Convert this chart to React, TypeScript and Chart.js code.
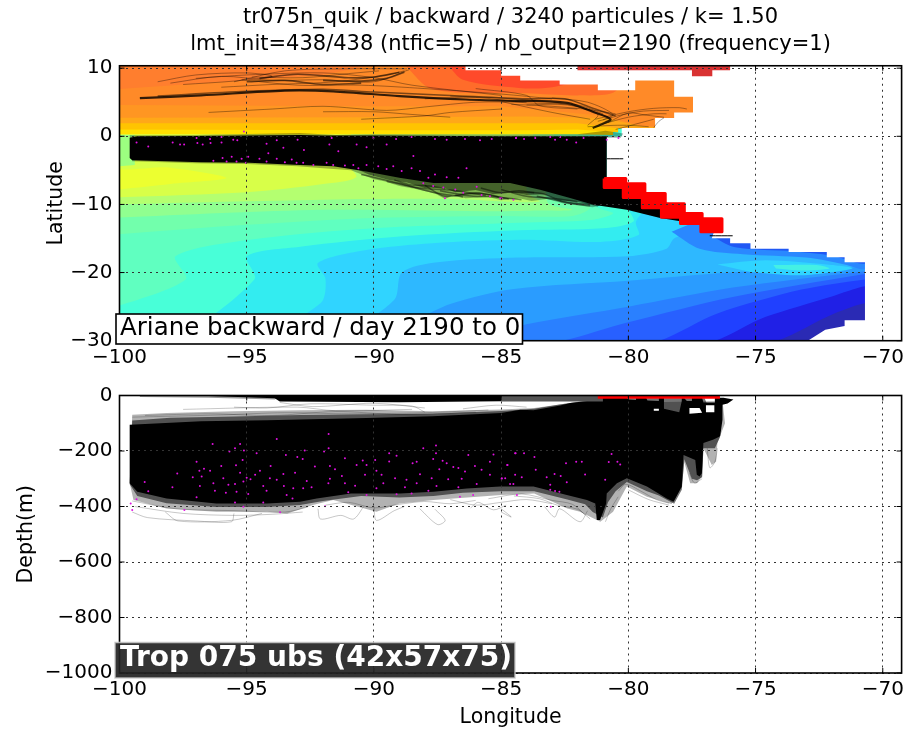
import React, { useEffect, useRef } from "react";
import { Chart, registerables } from "chart.js";

Chart.register(...registerables);

type P = number[][];

const FONT = "'DejaVu Sans', sans-serif";
const lonTicksStep = 5;
const titleLines = [
  "tr075n_quik / backward / 3240 particules / k= 1.50",
  "lmt_init=438/438 (ntfic=5) / nb_output=2190 (frequency=1)",
];
const topBoxText = "Ariane backward / day 2190 to 0";
const bottomBoxText = "Trop 075 ubs (42x57x75)";

// ---------- contour levels, cold to warm ("warmer than" boundary curves)
const coldColors = [
  "#2020e6", "#2040ff", "#2860ff", "#2a80ff", "#2a9cff", "#2eb8ff", "#30d4ff", "#33ecf0",
  "#48ffd8", "#60ffc0", "#72ffac", "#90ff90", "#b4ff70", "#d8ff48", "#ecff30",
];
const coldCurves: P[] = [
  [[-74.8, -30.5], [-71.9, -26], [-70.7, -24.5], [-69, -24]],
  [[-77.2, -30.5], [-74.6, -26.5], [-72, -23.5], [-70.7, -22], [-69, -21.5]],
  [[-79.4, -30.5], [-76.5, -26], [-73.2, -22.5], [-70.7, -21], [-69, -20.5]],
  [[-83.5, -30.5], [-80, -27.3], [-75.9, -23.6], [-70.7, -20.2], [-69, -19.5]],
  [[-86.8, -30.5], [-84, -27.6], [-80, -25], [-75.9, -22.2], [-70.7, -19.8], [-69, -19]],
  [[-89.5, -28.5], [-87, -24.6], [-84.5, -22.4], [-80, -21.2], [-76, -20], [-70.7, -19.2], [-69, -19]],
  [[-91, -28], [-89.2, -24], [-88.9, -20], [-87.5, -18.5], [-84.3, -17.8], [-80, -17.6], [-78.5, -16.5], [-78.2, -15], [-77, -13]],
  [[-94.9, -30], [-92.1, -24.5], [-91.9, -21], [-92.2, -18.6], [-90.3, -16.7], [-87.7, -15.7], [-84.3, -15.2], [-81.1, -15.5], [-79.6, -14.5], [-79.7, -12.5], [-79, -9]],
  [[-98, -30], [-94.7, -21], [-95, -17.6], [-92.9, -16.2], [-89, -14.7], [-84.3, -13.8], [-81, -13.5], [-79.8, -12.5], [-80, -10.5]],
  [[-100.5, -25.5], [-97.4, -21], [-97.8, -17.6], [-94.9, -15.2], [-90, -13.5], [-84.3, -12.7], [-81.5, -12.3], [-80.6, -11.3], [-81.3, -10]],
  [[-100.5, -14.5], [-95, -13], [-90, -12], [-85, -11.7], [-82.2, -11.7], [-81.5, -10.5], [-82, -9]],
  [[-100.5, -12], [-92, -10.8], [-85, -11], [-83.5, -10.9], [-82.2, -10.8], [-83.2, -9.5]],
  [[-100.5, -10], [-92, -9.3], [-87, -9.2], [-83.5, -9.6], [-84, -8]],
  [[-100.5, -9], [-95, -8.2], [-92, -7], [-90.7, -6], [-91, -4]],
  [[-100.5, -8], [-98, -7], [-95.8, -6.1], [-98, -4.6], [-100.5, -4]],
];
const leftEdgeGreen: P = [[-100, -4.4], [-99.4, -4.2], [-99.4, 0.2], [-100, 0.2]];

const blobLight: P = [[-76.5, -18.8], [-74.6, -18.2], [-72, -18.9], [-71.2, -19.4], [-73.2, -20.4], [-75.2, -19.9]];
const blobCyan: P = [[-74.3, -18.9], [-72.6, -18.9], [-72.1, -19.4], [-73.2, -19.7], [-74.2, -19.4]];
const coastA: P = [[-78.3, -14], [-77.2, -16.5], [-75.5, -17.3], [-73, -17.8], [-71.5, -18.8], [-70.7, -19.5], [-70, -18], [-74, -14], [-77, -12]];
const coastB: P = [[-76.8, -14.5], [-75.8, -16.3], [-73.5, -16.9], [-72, -17.5], [-70.7, -18.7], [-70, -17], [-75, -14]];

const northColors = ["#ffe000", "#ffc400", "#ffa818", "#ff9622", "#ff8a28", "#ff7e2e", "#ff6c2a", "#ff4a2a"];
const northCurves: P[] = [
  [[-100.5, 0.3], [-90, 0.3], [-82, 0.3], [-80.6, 0.2]],
  [[-100.5, 1], [-90, 0.9], [-84, 0.9], [-82, 1], [-80.4, 0.6]],
  [[-100.5, 1.9], [-90, 1.9], [-84, 1.9], [-82, 1.9], [-80, 1], [-77, 1]],
  [[-100.5, 2.7], [-90, 2.8], [-84, 2.9], [-81, 2.7], [-79.5, 1.5], [-77, 1]],
  [[-100.5, 4.6], [-90, 4.4], [-85, 4.4], [-81, 3], [-79.5, 1.5], [-77, 1]],
  [[-100.5, 6.8], [-92, 9], [-90, 10.5]],
];
const northOrange: P = [[-88.8, 10.5], [-87.7, 6.9], [-84, 6.3], [-82, 6], [-80.5, 6.6], [-80.3, 10.5]];
const northRed: P = [[-87.1, 10.5], [-86.5, 8.3], [-84.3, 7.1], [-83, 7.2], [-82, 8.4], [-82, 10.5]];

// ---------- land
const landEdge: P = [
  [-86.4, 10.5], [-86.4, 9.7], [-85, 9.7], [-85, 8.9], [-84.25, 8.9], [-84.25, 8.2], [-82.7, 8.2], [-82.7, 7.6],
  [-81.2, 7.6], [-81.2, 6.75], [-79.73, 6.75], [-79.73, 8.2], [-78.2, 8.2], [-78.2, 5.8], [-77.46, 5.8], [-77.46, 3.5],
  [-78.2, 3.5], [-78.2, 2.7], [-78.95, 2.7], [-78.95, 1.2], [-80.26, 1.2], [-80.26, 0], [-80.85, -0.1], [-80.85, -6.1],
  [-80.5, -7], [-79.8, -8], [-79, -9.4], [-78.3, -10.9], [-77.5, -12], [-76.7, -13], [-76.65, -14.2], [-76.72, -14.95],
  [-76, -14.95], [-76, -15.7], [-75.2, -15.7], [-75.2, -16.5], [-73.7, -16.5], [-73.7, -17], [-72.2, -17], [-72.2, -17.75],
  [-71.5, -17.75], [-71.5, -18.5], [-70.7, -18.5], [-70.7, -27], [-71.5, -27], [-71.5, -27.85], [-72.26, -28.4], [-72.9, -29.9],
  [-73, -30.5], [-69, -30.5], [-69, 10.5],
];
const redStrip: P = [[-82, 10.5], [-82, 9.7], [-77.5, 9.7], [-77.5, 8.8], [-76.7, 8.8], [-76.7, 9.7], [-76, 9.7], [-76, 10.5]];
const redCells: P = [
  [-80.95, -80.1, -6.2, -7.5], [-80.2, -79.35, -6.95, -9], [-79.45, -78.55, -8.4, -10.5],
  [-78.7, -77.8, -9.9, -11.9], [-77.95, -77.1, -11.35, -12.8], [-77.15, -76.32, -12.1, -14.0],
];

// ---------- top panel: particle mass and tracks
const massTopCore: P = [
  [-99.6, -0.2], [-99.3, 0], [-97, 0.05], [-95, 0.1], [-92.9, 0.2], [-92, 0.1], [-90, 0.1], [-85, 0], [-82, 0], [-80.85, 0],
  [-80.85, -6.2], [-80, -7.5], [-79, -9.5], [-78.5, -11], [-77.2, -12.6], [-77.1, -13], [-78.75, -12], [-80.06, -10.8],
  [-81.37, -10.05], [-82.29, -9.07], [-83.47, -7.84], [-84.65, -6.86], [-86.35, -6.86], [-87.66, -6.86], [-89, -6.1],
  [-90.3, -5.15], [-91.6, -4.4], [-92.9, -4.2], [-94.9, -3.9], [-96.8, -3.8], [-99.5, -3.5], [-99.6, -3.2],
];
const massTopHaloInner: P = [
  [-90.8, -4.6], [-90.2, -5.6], [-89.4, -6.4], [-88.7, -6.8], [-88, -7.6], [-87.3, -7.5], [-86.8, -8.2], [-86, -7.9], [-85.3, -8.5], [-84.6, -8.2],
  [-84, -8.6], [-83.3, -8.5], [-82.7, -9.4], [-82, -9.6], [-81.2, -10.3], [-80.8, -9], [-82, -7], [-86, -6], [-90, -4.5],
];
const massTopHalo: P = [
  [-99.6, 0.15], [-97, 0.2], [-95, 0.35], [-92.9, 0.5], [-91.5, 0.2], [-90, 0.3], [-85, 0.25], [-82, 0.3], [-80.9, 0.8], [-80.2, 0.4], [-80.3, -0.2],
  [-80.85, -0.2], [-80.9, -10], [-81.4, -10.4], [-82.1, -10.1], [-82.5, -9.9], [-83.2, -9.2], [-83.8, -9.5], [-84.3, -9.1], [-85, -9.4], [-85.5, -8.9],
  [-86.4, -9.1], [-86.9, -8.6], [-87.2, -9.2], [-87.6, -8.4], [-88.4, -7.7], [-89, -7.3], [-89.6, -6.6], [-90, -6.3], [-90.9, -5], [-92, -4.7], [-93, -4.4],
  [-95, -4.05], [-97, -3.95], [-99.5, -3.65],
];
const massTopSpikes: P[] = [
  [[-90.5, -5.6], [-89, -6.9], [-87.7, -8.2], [-86.5, -8.9]],
  [[-89.5, -6.6], [-88.2, -7.6], [-87, -7.9], [-85.6, -8.7]],
  [[-88, -7.2], [-87.2, -8.8], [-86, -8.3], [-84.7, -9.2]],
  [[-85, -7.8], [-84, -8.8], [-83, -9.1], [-82, -9.6]],
  [[-84.6, -8.2], [-83.4, -8.4], [-82.6, -9.6], [-81.5, -10.2]],
  [[-86.8, -8.6], [-86.1, -8.8], [-85.2, -8.9], [-84.2, -9.3]],
  [[-83.6, -8.8], [-82.9, -9.3], [-82.2, -9.8], [-81.5, -10]],
  [[-89.2, -6.4], [-88.6, -7.1], [-87.8, -7.3], [-87.2, -7.7]],
  [[-87.4, -8], [-86.6, -8.5], [-85.8, -8.4], [-85.1, -8.9]],
  [[-85.8, -7.6], [-85, -8.3], [-84.3, -8], [-83.7, -8.3]],
];
const trackMain: P = [
  [-99.2, 5.6], [-96.8, 6], [-93.5, 6.7], [-91.6, 6.6], [-89, 5.9], [-86.4, 5.4], [-84.3, 5.2], [-83.7, 5.2], [-82.4, 4.9],
  [-81.4, 3.6], [-80.7, 2.5], [-81.1, 1.7], [-81.4, 1.2],
];
const trackSecond: P = [[-98.5, 5.9], [-95, 6.6], [-92, 6.9], [-90, 6.5], [-87, 6], [-84, 5.5], [-82.5, 5.5], [-81.3, 4], [-80.5, 3]];
const trackUpperDark: P[] = [
  [[-94.5, 8.5], [-93, 9.1], [-91, 8.6], [-90, 8.7], [-89, 9.4]],
  [[-92, 8.2], [-90.5, 8.1], [-89.5, 8.5], [-88.8, 9.4]],
  [[-95, 8], [-93.5, 8.2], [-92, 7.6], [-90.5, 7.8]],
];
const tracksThinTop: P[] = [
  [[-98, 7.8], [-96, 8.8], [-94, 8.2], [-92, 8.3], [-90, 8], [-88.6, 9.8]],
  [[-95.5, 8], [-93.5, 9.6], [-91, 9.9], [-88.7, 9.9]],
  [[-97, 8.5], [-95, 9], [-92, 9.3], [-90, 8.6], [-88.5, 7.5], [-85, 6]],
  [[-95.2, 8.3], [-93, 7.5], [-90.5, 7.5], [-88, 7], [-85, 6.2], [-83, 5.5]],
  [[-96, 7.2], [-94, 7.6], [-91.5, 8], [-89.5, 9], [-88.8, 9.6]],
  [[-94.8, 8.7], [-92.8, 8.6], [-91, 9.2], [-89.8, 9.6]],
  [[-98.5, 8], [-97, 9], [-95, 9.3], [-94, 8.8], [-95.5, 8.1], [-97.5, 7.6]],
  [[-96.5, 3.5], [-94, 4], [-92, 4.4], [-89.5, 3.8], [-88, 4.3], [-86, 5], [-84, 5]],
  [[-90.5, 2.5], [-88, 3], [-87, 3.5], [-85, 4]],
  [[-92, 3.6], [-90, 3.6], [-88.5, 3.2], [-87, 2.8]],
  [[-86, 7], [-84, 6], [-83.5, 4.5], [-82, 4]],
  [[-85, 5.1], [-83, 3.5], [-81.5, 2.5]],
  [[-87, 5.9], [-85, 5.6], [-83, 5], [-81.8, 4.2], [-80.8, 2.8]],
  [[-88, 5.5], [-86, 5.7], [-84, 4.9], [-82, 4.6], [-81, 3.3]],
  [[-84.6, 4.7], [-83, 4.4], [-81.5, 3.9], [-80.5, 3.3]],
  [[-81.3, 2.5], [-80, 3.6], [-79, 4.1], [-78, 4.2], [-77.7, 4]],
  [[-81, 1.8], [-80, 2.8], [-79, 3.3], [-78.5, 3.3]],
  [[-81.2, 2.2], [-80.2, 3.2], [-79.4, 3.7], [-78.4, 3.8]],
  [[-80.8, 2], [-80, 3.4], [-79.3, 3.1], [-78.6, 2.8]],
  [[-80.5, 1], [-79.5, 2], [-79, 2.5]],
  [[-81.6, 1.4], [-80.6, 1.6], [-79.9, 1.6], [-79.2, 1.4]],
  [[-83, 5.6], [-81.6, 5], [-80.6, 3.2], [-81, 2.4]],
  [[-84, 4.6], [-82.4, 4.6], [-81.2, 3.2], [-81.6, 1.6]],
  [[-79, 1.3], [-78.8, 2.2], [-78.6, 2.7]],
];
const tinyStrokes: P[] = [
  [[-80.85, -3.3], [-80.2, -3.3]],
  [[-76.8, -14.6], [-75.9, -14.6]],
];
const topDotLon = [
  -99.33, -98.87, -97.91, -97.62, -97.46, -96.97, -96.94, -96.73, -96.44, -96.42, -95.99, -95.99, -95.53, -95.37, -95.11, -94.22, -93.82, -93.56, -93, -92.75,
  -91.75, -91.66, -91.4, -90.68, -90.29, -90.02, -89.5, -89.13, -88.52, -87.6, -87.14, -86.42, -85.83, -85.37, -84.42, -88.45, -86.36,
  -84.41, -84.1, -83.66, -83.07, -82.88, -82.68, -82.42, -82.05, -81.76, -80.85, -80.39,
  -96.31, -95.95, -95.79, -95.59, -95.4, -95.2, -95.03, -94.94, -94.5, -94.15, -94.22, -93.82, -93.5, -93.23, -93.04, -92.78, -92.38, -91.86, -91.6, -91.14,
  -90.81, -90.61, -90.29, -89.83, -89.5, -89.24, -88.91, -88.52, -88.19, -87.86, -87.6, -87.14, -86.68, -88.06, -87.67, -87.27, -87.21, -86.8, -86.49, -85.96,
  -85.77, -85.44, -84.98, -84.52, -85.04,
];
const topDotLat = [
  -0.9, -1.5, -0.9, -1.2, -1.2, -0.25, -1, -1.2, -0.4, -1, -0.1, -0.9, -0.5, -0.6, 0.7, -1.1, -0.6, -1.7, -0.5, -2,
  -1.2, -0.25, -2.2, -1.2, -1.6, -0.25, -1.2, -0.4, -0.1, -0.4, -0.5, -0.4, -0.6, -0.4, -0.25, -2.9, -4.7,
  -0.25, -0.4, -0.25, -0.1, -0.5, -0.1, -0.5, -0.9, -0.25, -0.5, -0.25,
  -3.6, -3.2, -3.7, -3, -3.7, -3.3, -3.9, -3, -3.3, -2.5, -3.7, -3.3, -3.8, -3.4, -3.9, -3.9, -4.2, -3.9, -4.2, -4.3,
  -4.2, -4.7, -4.2, -4.4, -4.8, -4.4, -5.1, -4.7, -5.1, -6.1, -5.6, -6, -6.1, -6.9, -7.3, -7.5, -9.1, -7.8, -8.3, -7.4,
  -8.6, -8.8, -9.1, -9.3, -9.1,
];

// ---------- bottom panel
const sectionCore: P = [
  [-99.6, -105], [-96.8, -93], [-94.2, -89], [-90.3, -81], [-87.7, -75], [-85, -63], [-84.25, -51], [-83.73, -53], [-82.68, -36], [-82.29, -27], [-81.11, -14], [-81.1, -8],
  [-80.1, -6], [-80, -14], [-79.7, -16], [-79.7, -8], [-79.3, -8], [-79.25, -18], [-78.8, -20], [-78.8, -8], [-78.6, -8], [-78.6, -48], [-78, -60], [-77.9, -20], [-77.9, -10], [-77.8, -10],
  [-77.7, -20], [-77.5, -20], [-77.5, -8], [-77.1, -8], [-77.05, -25], [-76.6, -25], [-76.6, -8], [-76.26, -8], [-75.87, -14], [-76.1, -29], [-76.3, -33],
  [-76.3, -87], [-76.39, -147], [-76.65, -159], [-77.05, -171], [-77.11, -280], [-77.2, -292], [-77.31, -286], [-77.37, -232], [-77.83, -214], [-77.9, -328], [-78.22, -383],
  [-78.49, -371], [-79.27, -328], [-80.06, -298], [-80.45, -316], [-80.85, -353], [-80.87, -389], [-81.11, -449], [-81.24, -449], [-81.3, -389], [-81.63, -377], [-82.42, -359], [-83.73, -328], [-85.04, -328],
  [-86.35, -335], [-87.66, -347], [-88.97, -353], [-90.9, -353], [-92.25, -371], [-92.9, -383], [-94.2, -389], [-96.2, -389], [-98.15, -371], [-99.3, -347], [-99.6, -316],
];
const sectionHaloInner: P = [
  [-99.5, -90], [-98, -80], [-95.5, -76], [-92.9, -70], [-90.3, -68], [-87.7, -66], [-85, -56], [-83.7, -48], [-82.7, -32], [-81, -10],
  [-77, -10], [-76.4, -150], [-76.6, -190], [-77.05, -190], [-77.1, -295], [-77.3, -305], [-77.5, -300], [-77.8, -230], [-77.9, -340], [-78.2, -390], [-78.8, -360], [-79.27, -345], [-80.06, -312], [-80.5, -345], [-80.8, -385],
  [-81, -440], [-81.4, -420], [-81.7, -392], [-82.4, -375], [-83.7, -345], [-85, -345], [-86.5, -350], [-87.66, -362], [-89, -368], [-90.5, -362], [-92, -380], [-92.9, -395], [-94.2, -402], [-96.2, -402], [-98.15, -388], [-99.3, -362], [-99.6, -320],
];
const sectionHalo: P = [
  [-99.5, -69], [-98.15, -63], [-95.5, -57], [-92.9, -53], [-90.3, -51], [-87.7, -57], [-85, -50], [-83.7, -45], [-82.5, -30], [-76.3, -20],
  [-76.2, -100], [-76.5, -171], [-76.55, -238], [-76.72, -250], [-77.05, -190], [-77.1, -290], [-77.3, -316], [-77.57, -316], [-77.8, -240], [-77.9, -330], [-78.3, -391], [-79.27, -365], [-80.06, -328], [-80.6, -419],
  [-81.1, -455], [-81.9, -419], [-82.4, -407], [-83.7, -353], [-85, -359], [-87.66, -377], [-89, -389], [-89.9, -419], [-91.6, -377], [-92.4, -395], [-93.4, -425], [-94.2, -419], [-96.2, -419], [-98.15, -407], [-99.45, -377], [-99.6, -316],
];
const sectionStripBlack: P = [[-96.5, -2], [-93.9, -10], [-93.7, -22], [-89, -24], [-85, -21], [-85, -2]];
const sectionStripGrey: P = [[-99.2, -5], [-96.5, -8], [-93.9, -14], [-93.7, -5], [-96, 0], [-99.2, 0]];
const sectionStripRight: P = [[-85, -2], [-85, -22], [-81, -22], [-81, -2]];
const sectionGaps: P[] = [
  [[-77.6, -45], [-77.2, -45], [-77.1, -62], [-77.6, -66]],
  [[-76.95, -35], [-76.62, -35], [-76.62, -60], [-76.95, -60]],
  [[-79, -48], [-78.8, -48], [-78.8, -55], [-79, -55]],
];
const redDepthLon = [-81.2, -76.4];
const redDepthVal = [-6, -6];
const tracksThinBottom: P[] = [
  [[-99.5, -420], [-98.9, -440], [-97, -452], [-95.6, -455], [-95.5, -425]],
  [[-98.2, -420], [-97.7, -452], [-95.6, -450], [-94.4, -425]],
  [[-88.2, -408], [-87.5, -465], [-87.2, -450], [-87.6, -410]],
  [[-92.2, -408], [-92.1, -445], [-91.3, -432], [-90.8, -445], [-90.4, -400]],
  [[-90, -400], [-89.9, -450], [-89.2, -415], [-88.8, -400]],
  [[-85, -420], [-84.6, -438], [-85, -408]],
  [[-83.3, -400], [-82.9, -438], [-82.7, -408], [-81.9, -455], [-81.6, -415]],
  [[-86.2, -405], [-85.9, -385], [-85.3, -412], [-84.8, -395]],
  [[-80.9, -455], [-80.7, -410], [-80.4, -365]],
  [[-80, -340], [-79.2, -375], [-78.4, -395]],
  [[-77.6, -280], [-77.4, -315], [-77.1, -300]],
  [[-76.9, -190], [-76.8, -260], [-76.6, -240], [-76.5, -190]],
  [[-99.4, -400], [-97.5, -425], [-95.5, -432], [-94, -428], [-92.8, -420]],
  [[-99.5, -380], [-97.8, -408], [-95.5, -415], [-93.5, -420], [-92.6, -402]],
  [[-91.9, -395], [-91, -385], [-90, -405], [-89, -392], [-88, -382], [-87, -390], [-86, -378]],
  [[-87, -375], [-86, -395], [-85, -385], [-84, -375], [-83, -390]],
  [[-84.5, -362], [-83.5, -372], [-82.8, -395], [-82, -410], [-81.5, -445]],
  [[-85.5, -372], [-84.2, -355], [-83, -378], [-82.2, -392], [-81.7, -430]],
  [[-80.4, -345], [-80.1, -320], [-79.5, -345], [-78.9, -375], [-78.4, -388]],
  [[-95.5, -42], [-94.2, -45], [-92.5, -30], [-90, -35], [-88.5, -38], [-88, -60]],
  [[-97.5, -50], [-93, -42], [-91.5, -55], [-88.5, -50]],
  [[-93.7, -25], [-92.4, -40], [-90, -28], [-88, -45]],
  [[-86.5, -48], [-85.2, -35], [-84, -42]],
  [[-99.5, -78], [-96, -70], [-93.5, -62], [-91, -66], [-88, -62], [-85.5, -52]],
  [[-99, -72], [-96.5, -66], [-94, -72], [-91.5, -58], [-89, -68], [-86, -60]],
];
const lowDotLon = [
  -96.34, -95.26, -93.82, -91.78, -95.46, -95.11, -91.78, -88.06, -87.56, -87.56, -95.68, -94.61, -93.46, -92.72, -91.96, -89.4, -89.11, -86.29, -85.3, -84.43,
  -93.01, -92.8, -91.14, -89.95, -90.44, -89.4, -87.67, -87.3, -95.16, -96.97, -88.48, -88.32, -87.14, -85.44, -84.76, -86.03, -86.88, -85.77, -94.06, -96,
  -96.68, -96.86, -97.73, -95.42, -92.32, -91.73, -91.53, -90.68, -90.29, -89.9, -87.43, -86.68, -86.42, -93.56, -94.48, -95.26, -96.44, -97.12, -96.77, -95,
  -94.85, -94.67, -94.09, -93.82, -93.1, -92.64, -91.73, -91.26, -90.35, -89.7, -89.17, -88.72, -88.19, -87.73, -87.08, -86.55, -85.44, -84.98, -99.01, -96.84,
  -96.31, -95.92, -95.72, -95.46, -95.13, -94.35, -93.54, -93.17, -92.45, -91.79, -91.14, -90.74, -89.9, -89.63, -88.78, -88.32, -87.54, -86.68, -85.96, -84.65,
  -98.87, -97.92, -96.25, -95.82, -95.4, -94.94, -94.22, -93.43, -92.78, -91.01, -90.29, -89.11, -88.52, -87.86, -86.1, -99.33, -96.97, -95.46, -95.13, -94.35,
  -93.2, -91.92, -86.62, -99.56, -99.5, -97.45, -93.69,
  -84.45, -84.1, -83.69, -84.75, -83.64, -82.45, -82.05, -81.83, -80.77, -80.43, -80.32, -80.66, -84.45, -84.19, -83.21, -82.9, -82.66, -81.7, -80.91, -82.42,
  -84.97, -84.84, -84.52, -83.07, -83.07, -82.88, -82.71, -84.38, -83.05,
];
const lowDotDepth = [
  -175, -175, -157, -139, -190, -198, -190, -190, -180, -208, -202, -208, -214, -198, -202, -208, -217, -214, -213, -208,
  -222, -229, -226, -232, -234, -238, -229, -235, -232, -239, -244, -239, -244, -239, -250, -254, -258, -268, -254, -254,
  -264, -271, -281, -251, -256, -254, -266, -250, -250, -271, -266, -261, -274, -283, -271, -278, -271, -295, -292, -296,
  -302, -286, -298, -304, -278, -308, -300, -290, -286, -286, -298, -304, -284, -298, -302, -300, -286, -300, -312, -326,
  -316, -298, -322, -319, -310, -326, -326, -334, -331, -316, -316, -325, -334, -316, -331, -316, -326, -331, -319, -319,
  -345, -331, -343, -350, -347, -355, -343, -359, -334, -349, -359, -356, -353, -343, -359, -374, -367, -386, -401, -386,
  -371, -399, -365, -389, -413, -413, -421,
  -208, -208, -222, -250, -268, -244, -239, -239, -240, -239, -249, -211, -286, -295, -295, -283, -290, -285, -304, -313,
  -298, -298, -319, -322, -340, -344, -347, -359, -401,
];

// ---------- helpers
const xy = (p: P) => p.map(([x, y]) => ({ x, y }));
const fillPoly = (p: P, color: string, extra: any = {}) => ({
  data: xy(p), showLine: true, fill: "shape", backgroundColor: color, borderColor: color,
  borderWidth: 0, pointRadius: 0, tension: 0, ...extra,
});
const stroke = (p: P, color: string, w: number) => ({
  data: xy(p), showLine: true, fill: false, borderColor: color, borderWidth: w, pointRadius: 0, tension: 0.3,
  borderJoinStyle: "round", backgroundColor: color,
});
const dots = (xs: number[], ys: number[]) => ({
  data: xs.map((x, i) => ({ x, y: ys[i] })), showLine: false, pointRadius: 1, pointStyle: "circle",
  backgroundColor: "#e010e0", borderColor: "#e010e0", borderWidth: 0,
});
const stacked = (list: any[]) => list.map((d, i) => ({ ...d, order: list.length - i }));

const TOP = 10.5;
const BOTTOM = -30.5;
const LEFT = -100.5;
const region = (curve: P): P => {
  const last = curve[curve.length - 1];
  const head: P = curve[0][0] > LEFT ? [[LEFT, BOTTOM]] : [];
  return [...head, ...curve, [last[0], TOP], [LEFT, TOP]];
};
const smooth = { tension: 0.3 };

const topDatasets = () => stacked([
  fillPoly([[LEFT, BOTTOM], [-69, BOTTOM], [-69, TOP], [LEFT, TOP]], "#2a2ab4"),
  ...coldCurves.map((c, i) => fillPoly(region(c), coldColors[i], smooth)),
  fillPoly(blobLight, "#30d4ff", smooth),
  fillPoly(blobCyan, "#44f0e4", smooth),
  fillPoly(coastA, "#2a88ff", smooth),
  fillPoly(coastB, "#2058f4", smooth),
  fillPoly(leftEdgeGreen, "#9cff80"),
  ...northCurves.map((c, i) => fillPoly(region(c), northColors[i])),
  fillPoly(northOrange, "#ff6c2a", smooth),
  fillPoly(northRed, "#ff4a2a", smooth),
  fillPoly(landEdge, "#ffffff"),
  fillPoly(redStrip, "#d93232"),
  fillPoly(massTopHalo, "rgba(0,0,0,0.3)"),
  fillPoly(massTopHaloInner, "rgba(0,0,0,0.45)"),
  ...massTopSpikes.map((t) => stroke(t, "rgba(0,0,0,0.45)", 1.5)),
  fillPoly(massTopCore, "#000000"),
  ...tracksThinTop.map((t) => stroke(t, "rgba(0,0,0,0.35)", 1)),
  ...trackUpperDark.map((t) => stroke(t, "rgba(0,0,0,0.55)", 1.6)),
  stroke(trackSecond, "rgba(0,0,0,0.5)", 1.5),
  stroke(trackMain, "rgba(0,0,0,0.8)", 2.2),
  ...tinyStrokes.map((t) => stroke(t, "#000000", 1)),
  ...redCells.map(([a, b, c, d]) =>
    fillPoly([[a, c], [b, c], [b, d], [a, d], [a, c]], "#ff0000", { borderWidth: 3, borderJoinStyle: "round" })),
  dots(topDotLon, topDotLat),
]);

const bottomDatasets = () => stacked([
  fillPoly(sectionHalo, "rgba(0,0,0,0.3)"),
  ...tracksThinBottom.map((t) => stroke(t, "rgba(0,0,0,0.22)", 1)),
  fillPoly(sectionHaloInner, "rgba(0,0,0,0.55)"),
  fillPoly(sectionCore, "#000000"),
  ...sectionGaps.map((g) => fillPoly(g, "#ffffff")),
  fillPoly(sectionStripGrey, "rgba(0,0,0,0.4)"),
  fillPoly(sectionStripBlack, "#000000"),
  fillPoly(sectionStripRight, "#555555"),
  stroke(redDepthLon.map((x, i) => [x, redDepthVal[i]]), "#ff0000", 3),
  dots(lowDotLon, lowDotDepth),
]);

const minus = (v: number | string) => String(v).replace("-", "\u2212");

const framePlugin = (box: any) => ({
  id: "frameAndBox",
  afterDraw(chart: any) {
    const { ctx, chartArea: a, scales } = chart;
    ctx.save();
    ctx.strokeStyle = "#000";
    ctx.lineWidth = 1;
    scales.x.ticks.forEach((_: any, i: number) => {
      const x = scales.x.getPixelForTick(i);
      ctx.beginPath(); ctx.moveTo(x, a.bottom); ctx.lineTo(x, a.bottom - 5);
      ctx.moveTo(x, a.top); ctx.lineTo(x, a.top + 5); ctx.stroke();
    });
    scales.y.ticks.forEach((_: any, i: number) => {
      const y = scales.y.getPixelForTick(i);
      ctx.beginPath(); ctx.moveTo(a.left, y); ctx.lineTo(a.left + 5, y);
      ctx.moveTo(a.right, y); ctx.lineTo(a.right - 5, y); ctx.stroke();
    });
    ctx.lineWidth = 1.6;
    ctx.strokeRect(a.left, a.top, a.right - a.left, a.bottom - a.top);
    ctx.fillStyle = box.fill;
    ctx.fillRect(box.x, box.y, box.w, box.h);
    if (box.stroke) {
      ctx.strokeStyle = box.stroke;
      ctx.lineWidth = 1.6;
      ctx.strokeRect(box.x, box.y, box.w, box.h);
    }
    ctx.fillStyle = box.color;
    ctx.font = box.font;
    ctx.textBaseline = "middle";
    ctx.textAlign = "left";
    ctx.fillText(box.text, box.tx, box.ty);
    ctx.restore();
  },
});

const baseOptions = (o: any) => ({
  responsive: false,
  animation: false,
  layout: { padding: o.padding },
  plugins: {
    legend: { display: false },
    tooltip: { enabled: false },
    title: o.title ?? { display: false },
  },
  scales: {
    x: {
      type: "linear", min: -100, max: -69.26,
      afterFit: (s: any) => { s.height = o.xHeight; s.paddingLeft = 0; s.paddingRight = 0; },
      grid: { z: 1, color: "#333", lineWidth: 1, drawTicks: false },
      border: { dash: [2, 4], display: false },
      ticks: {
        stepSize: lonTicksStep, includeBounds: false, color: "#000", maxRotation: 0, padding: 5,
        font: { family: FONT, size: 20 }, callback: (v: number) => minus(v),
      },
      title: o.xTitle ?? { display: false },
    },
    y: {
      type: "linear", min: o.yMin, max: o.yMax,
      afterFit: (s: any) => { s.width = o.yWidth; s.paddingTop = 0; s.paddingBottom = 0; },
      grid: { z: 1, color: "#333", lineWidth: 1, drawTicks: false },
      border: { dash: [2, 4], display: false },
      ticks: {
        stepSize: o.yStep, includeBounds: false, color: "#000", padding: 7,
        font: { family: FONT, size: 20 }, callback: (v: number) => minus(v),
      },
      title: { display: true, text: o.yLabel, color: "#000", font: { family: FONT, size: 20.5 }, padding: { top: 0, bottom: 0 } },
    },
  },
});

export default function App() {
  const topRef = useRef<HTMLCanvasElement>(null);
  const lowRef = useRef<HTMLCanvasElement>(null);

  useEffect(() => {
    const top = new Chart(topRef.current as any, {
      type: "scatter",
      data: { datasets: topDatasets() as any },
      plugins: [framePlugin({
        x: 116, y: 314, w: 406.5, h: 30, fill: "#fff", stroke: "#000", color: "#000",
        font: `24.5px ${FONT}`, text: topBoxText, tx: 120, ty: 329,
      })],
      options: baseOptions({
        padding: { left: 44, right: 4.4, top: 4, bottom: 0 },
        title: {
          display: true, text: titleLines, color: "#000", fullSize: false,
          font: { family: FONT, size: 21, weight: "normal", lineHeight: 1.28 }, padding: { top: 0, bottom: 8 },
        },
        xHeight: 34.3, yWidth: 75.5, yMin: -30, yMax: 10.35, yStep: 10, yLabel: "Latitude",
      }) as any,
    });
    const low = new Chart(lowRef.current as any, {
      type: "scatter",
      data: { datasets: bottomDatasets() as any },
      plugins: [framePlugin({
        x: 115, y: 267.5, w: 400, h: 35.5, fill: "rgba(35,35,35,0.92)", stroke: "rgba(200,200,200,0.8)", color: "#fff",
        font: `bold 28px ${FONT}`, text: bottomBoxText, tx: 120, ty: 284,
      })],
      options: baseOptions({
        padding: { left: 14, right: 4.4, top: 20.5, bottom: 0 },
        xTitle: { display: true, text: "Longitude", color: "#000", font: { family: FONT, size: 20.5 }, padding: { top: 0, bottom: 0 } },
        xHeight: 57, yWidth: 105.5, yMin: -1000, yMax: 0, yStep: 200, yLabel: "Depth(m)",
      }) as any,
    });
    return () => { top.destroy(); low.destroy(); };
  }, []);

  return (
    <div style={{ position: "absolute", left: 0, top: 0, width: 906, height: 730, background: "#fff", overflow: "hidden" }}>
      <canvas ref={topRef} width={906} height={375} style={{ position: "absolute", left: 0, top: 0 }} />
      <canvas ref={lowRef} width={906} height={355} style={{ position: "absolute", left: 0, top: 375 }} />
    </div>
  );
}
